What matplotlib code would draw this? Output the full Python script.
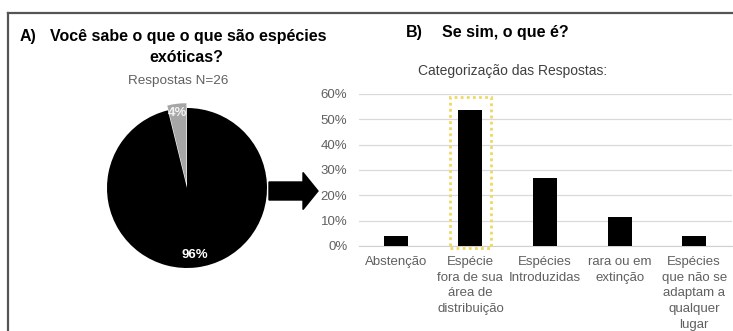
import matplotlib.pyplot as plt
from matplotlib.patches import FancyArrow, Rectangle
from matplotlib.ticker import PercentFormatter
import numpy as np

plt.rcParams["font.family"] = ["Liberation Sans", "DejaVu Sans"]

# pie: do you know what exotic species are? (N=26)
pie_labels = ["Não", "Sim"]
pie_counts = [1, 25]
pie_colors = ["#a6a6a6", "#000000"]

# bars: categorised answers
categories = [
    "Abstenção",
    "Espécie\nfora de sua\nárea de\ndistribuição",
    "Espécies\nIntroduzidas",
    "rara ou em\nextinção",
    "Espécies\nque não se\nadaptam a\nqualquer\nlugar",
]
answer_counts = np.array([1, 14, 7, 3, 1])
answer_share = answer_counts / answer_counts.sum()
highlight_idx = 1

W, H = 733, 331
fig = plt.figure(figsize=(W / 100, H / 100), dpi=100)


def px_axes(left, top, width, height):
    return fig.add_axes([left / W, 1 - (top + height) / H, width / W, height / H])


gray_txt = "#606060"

# ---- panel A: pie ----
ax_pie = px_axes(107, 108, 160, 160)
wedges, _ = ax_pie.pie(pie_counts, colors=pie_colors, startangle=90,
                       counterclock=True, explode=[0.06, 0], radius=1)
ax_pie.set_xlim(-1, 1)
ax_pie.set_ylim(-1, 1)
ax_pie.set_aspect("equal")
ax_pie.axis("off")

total = sum(pie_counts)
start = 90.0
for cnt, r, col in zip(pie_counts, [0.94, 0.84], ["#f2f2f2", "#ffffff"]):
    span = 360.0 * cnt / total
    mid = np.deg2rad(start + span / 2)
    ax_pie.text(r * np.cos(mid), r * np.sin(mid), f"{round(100 * cnt / total)}%",
                ha="center", va="center", color=col, fontsize=9.5,
                fontweight="bold")
    start += span

# ---- panel B: bars ----
ax_bar = px_axes(358.5, 94, 373, 152)
x = np.arange(len(categories))
ax_bar.bar(x, answer_share, width=0.32, color="black", zorder=3)
ax_bar.set_xlim(-0.5, len(categories) - 0.5)
ax_bar.set_ylim(0, 0.6)
ax_bar.set_yticks(np.arange(0, 0.61, 0.1))
ax_bar.yaxis.set_major_formatter(PercentFormatter(1.0, decimals=0))
ax_bar.grid(axis="y", color="#d9d9d9", linewidth=0.9, zorder=0)
for side in ["top", "right", "left"]:
    ax_bar.spines[side].set_visible(False)
ax_bar.spines["bottom"].set_color("#d0d0d0")
ax_bar.set_xticks(x)
ax_bar.set_xticklabels(categories, fontsize=9.5, color=gray_txt, linespacing=1.42)
ax_bar.tick_params(axis="both", length=0, labelsize=9.5, labelcolor=gray_txt)
ax_bar.tick_params(axis="y", pad=8)
ax_bar.tick_params(axis="x", pad=7)

# dotted highlight around the main category
ax_bar.add_patch(Rectangle((highlight_idx - 0.28, -0.008), 0.56, 0.596,
                           fill=False, edgecolor="#f0d860", linestyle=(0, (1, 1.2)),
                           linewidth=2, clip_on=False, zorder=4))

# ---- overlay in pixel coordinates: frame, arrow, titles ----
ov = fig.add_axes([0, 0, 1, 1], zorder=-1)
ov.set_xlim(0, W)
ov.set_ylim(H, 0)
ov.axis("off")

ov.plot([8, W], [13, 13], color="#555555", linewidth=1.6)
ov.plot([8, 8], [13, H], color="#555555", linewidth=1.6)

ov.add_patch(FancyArrow(269, 191, 49, 0, width=18, head_width=37,
                        head_length=15, length_includes_head=True,
                        color="black"))

title_kw = dict(fontsize=11.5, fontweight="bold", color="black", va="center")
ov.text(20, 36, "A)", ha="left", **title_kw)
ov.text(50, 36, "Você sabe o que o que são espécies", ha="left", **title_kw)
ov.text(186, 57, "exóticas?", ha="center", **title_kw)
ov.text(178, 81, "Respostas N=26", ha="center", va="center", fontsize=9.7,
        color=gray_txt)

ov.text(406, 33, "B)", ha="left", **title_kw)
ov.text(442, 33, "Se sim, o que é?", ha="left", **title_kw)
ov.text(513, 71, "Categorização das Respostas:", ha="center", va="center",
        fontsize=10, color="#404040")

fig.savefig("out.png", dpi=100)
